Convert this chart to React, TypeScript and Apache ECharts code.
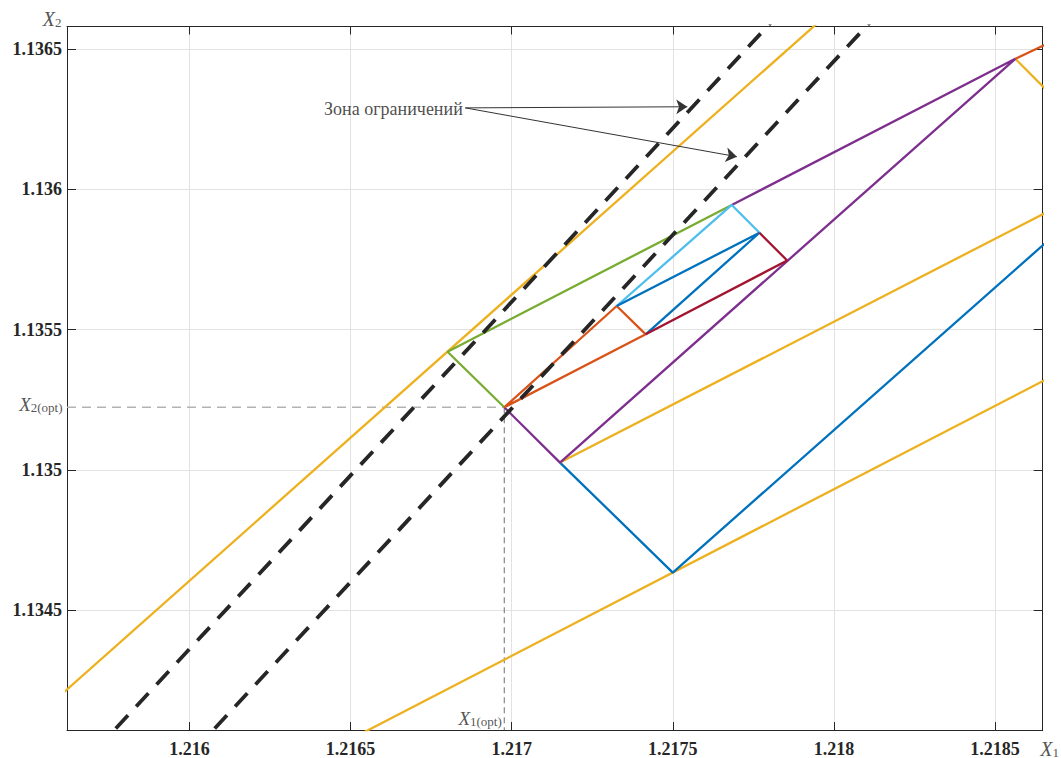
import React, { useEffect, useRef } from 'react';
import * as echarts from 'echarts';

// Axis ranges and ticks
const xRange = [1.21562, 1.218648];
const yRange = [1.134073, 1.13658];
const xTicks = [1.216, 1.2165, 1.217, 1.2175, 1.218, 1.2185];
const yTicks = [1.1345, 1.135, 1.1355, 1.136, 1.1365];

// Key points (X1, X2)
const pOpt = [1.216977, 1.135223];
const pGreen = [1.216801, 1.135421];
const pO1 = [1.217326, 1.135584];
const pO2 = [1.217416, 1.135483];
const pLb = [1.217683, 1.135944];
const pB = [1.217769, 1.135845];
const pR = [1.217855, 1.135746];
const pPt = [1.218563, 1.136465];
const pPv = [1.21715, 1.135026];
const pBv = [1.2175, 1.134634];
const pC = [1.218909, 1.136065];
const pOrangeOut = [1.219, 1.1367];

// Polylines
const yellowUpper = [[1.2155, 1.134095], [1.2182, 1.136848]];
const yellowLower = [[1.2165, 1.13404], [1.219, 1.135525]];
const yellowTri = [pPv, pC, pPt];
const blueBig = [pPv, pBv, pC];
const orangeTop = [pPt, pOrangeOut];
const purpleLines = [pOpt, pPv, pPt, pLb];
const greenLines = [pOpt, pGreen, pLb];
const orangeTri = [pOpt, pO1, pO2, pOpt];
const cyanLines = [pO1, pLb, pB];
const blueSmall = [pO1, pB, pO2];
const redLines = [pO2, pR, pB];
const dashLeft = [[1.215708, 1.134], [1.21789, 1.1367]];
const dashRight = [[1.216015, 1.134], [1.218197, 1.1367]];
const optHoriz = [[xRange[0], pOpt[1]], pOpt];
const optVert = [pOpt, [pOpt[0], yRange[0]]];

// Annotation arrows
const arrowStart = [1.216856, 1.13629];
const arrowEnds = [[1.217545, 1.136294], [1.217699, 1.136116]];
const annotationText = 'Зона ограничений';

const COLORS = {
  blue: '#0072BD',
  orange: '#D95319',
  yellow: '#EDB120',
  purple: '#7E2F8E',
  green: '#77AC30',
  cyan: '#4DBEEE',
  red: '#A2142F',
};

const SERIF = "'Liberation Serif', 'DejaVu Serif', serif";
const AX = '#262626';
const LW = 2.3;

function seg(name: string, data: number[][], color: string, width = LW, type: any = 'solid') {
  return {
    type: 'line',
    name,
    data,
    showSymbol: false,
    symbol: 'none',
    silent: true,
    clip: true,
    lineStyle: { color, width, type, cap: 'butt' },
    emphasis: { disabled: true },
  };
}

const fmt = (v: number) => String(Number(v.toFixed(4)));

const subRich = {
  x: { fontFamily: SERIF, fontStyle: 'italic', fontSize: 19, color: AX, lineHeight: 20, verticalAlign: 'bottom' },
  s: { fontFamily: SERIF, fontSize: 13, color: AX, lineHeight: 16, verticalAlign: 'bottom' },
};
const nameRich = {
  x: { fontFamily: SERIF, fontStyle: 'italic', fontSize: 20, color: AX, lineHeight: 21, verticalAlign: 'bottom' },
  s: { fontFamily: SERIF, fontSize: 13, color: AX, lineHeight: 16, verticalAlign: 'bottom' },
};

export default function App() {
  const ref = useRef<HTMLDivElement>(null);
  useEffect(() => {
    if (!ref.current) return;
    const chart = echarts.init(ref.current, null, { renderer: 'svg' });
    const axisCommon = {
      type: 'value',
      axisLine: { show: true, onZero: false, lineStyle: { color: AX, width: 1 } },
    };
    const option: any = {
      animation: false,
      backgroundColor: '#ffffff',
      grid: { left: 67, right: 18.3, top: 26.5, bottom: 28, containLabel: false },
      xAxis: [
        {
          ...axisCommon,
          position: 'bottom',
          min: xRange[0],
          max: xRange[1],
          axisTick: { show: true, inside: true, length: 8, customValues: xTicks, lineStyle: { color: AX } },
          axisLabel: {
            show: true,
            customValues: xTicks,
            formatter: fmt,
            fontFamily: SERIF,
            fontWeight: 'bold',
            fontSize: 18,
            color: AX,
            margin: 10,
          },
          splitLine: { show: true, lineStyle: { color: '#e2e2e2', width: 1 } },
        },
        {
          ...axisCommon,
          position: 'top',
          min: xRange[0],
          max: xRange[1],
          axisTick: { show: true, inside: true, length: 8, customValues: xTicks, lineStyle: { color: AX } },
          axisLabel: { show: false, customValues: xTicks },
          splitLine: { show: false },
        },
      ],
      yAxis: [
        {
          ...axisCommon,
          position: 'left',
          min: yRange[0],
          max: yRange[1],
          axisTick: { show: true, inside: true, length: 9, customValues: yTicks, lineStyle: { color: AX } },
          axisLabel: {
            show: true,
            customValues: yTicks,
            formatter: fmt,
            fontFamily: SERIF,
            fontWeight: 'bold',
            fontSize: 18,
            color: AX,
            margin: 5,
          },
          splitLine: { show: true, lineStyle: { color: '#e2e2e2', width: 1 } },
        },
        {
          ...axisCommon,
          position: 'right',
          min: yRange[0],
          max: yRange[1],
          axisTick: { show: true, inside: true, length: 9, customValues: yTicks, lineStyle: { color: AX } },
          axisLabel: { show: false, customValues: yTicks },
          splitLine: { show: false },
        },
      ],
      series: [
        seg('optH', optHoriz, '#b3b3b3', 1.5, [9, 6]),
        seg('optV', optVert, '#6e6e6e', 1, [6, 4]),
        seg('yellowUpper', yellowUpper, COLORS.yellow),
        seg('yellowLower', yellowLower, COLORS.yellow),
        seg('blueBig', blueBig, COLORS.blue),
        seg('yellowTri', yellowTri, COLORS.yellow),
        seg('orangeTop', orangeTop, COLORS.orange),
        seg('purple', purpleLines, COLORS.purple),
        seg('green', greenLines, COLORS.green),
        seg('orangeTri', orangeTri, COLORS.orange),
        seg('cyan', cyanLines, COLORS.cyan),
        seg('blueSmall', blueSmall, COLORS.blue),
        seg('red', redLines, COLORS.red),
        seg('dashLeft', dashLeft, AX, 3.8, [18, 12]),
        seg('dashRight', dashRight, AX, 3.8, [18, 12]),
        {
          type: 'scatter',
          name: 'labels',
          clip: false,
          silent: true,
          symbolSize: 1,
          itemStyle: { color: 'rgba(0,0,0,0)' },
          emphasis: { disabled: true },
          data: [
            {
              value: arrowStart,
              label: {
                show: true,
                position: 'left',
                distance: 2,
                offset: [0, 1],
                formatter: annotationText,
                fontFamily: SERIF,
                fontSize: 18,
                color: '#1a1a1a',
              },
            },
            {
              value: [xRange[0], pOpt[1]],
              label: {
                show: true,
                position: 'left',
                distance: 4,
                offset: [0, -3],
                formatter: '{x|X}{s|2(opt)}',
                rich: subRich,
              },
            },
            {
              value: [pOpt[0], yRange[0]],
              label: {
                show: true,
                position: 'left',
                distance: 2,
                offset: [0, -12],
                formatter: '{x|X}{s|1(opt)}',
                rich: subRich,
              },
            },
            {
              value: [xRange[0], yRange[1]],
              label: {
                show: true,
                position: 'left',
                distance: 5,
                offset: [0, -8],
                formatter: '{x|X}{s|2}',
                rich: nameRich,
              },
            },
            {
              value: [xRange[1], yRange[0]],
              label: {
                show: true,
                position: 'right',
                distance: 0,
                offset: [-3, 18],
                formatter: '{x|X}{s|1}',
                rich: nameRich,
              },
            },
          ],
          markLine: {
            silent: true,
            symbol: ['none', 'arrow'],
            symbolSize: 11,
            label: { show: false },
            lineStyle: { color: '#333333', width: 1, type: 'solid' },
            emphasis: { disabled: true },
            data: arrowEnds.map((e) => [{ coord: arrowStart }, { coord: e }]),
          },
        },
      ],
    };
    chart.setOption(option);
    return () => chart.dispose();
  }, []);
  return (
    <div
      ref={ref}
      style={{ position: 'fixed', left: 0, top: 0, width: 1061, height: 758, background: '#fff' }}
    />
  );
}
